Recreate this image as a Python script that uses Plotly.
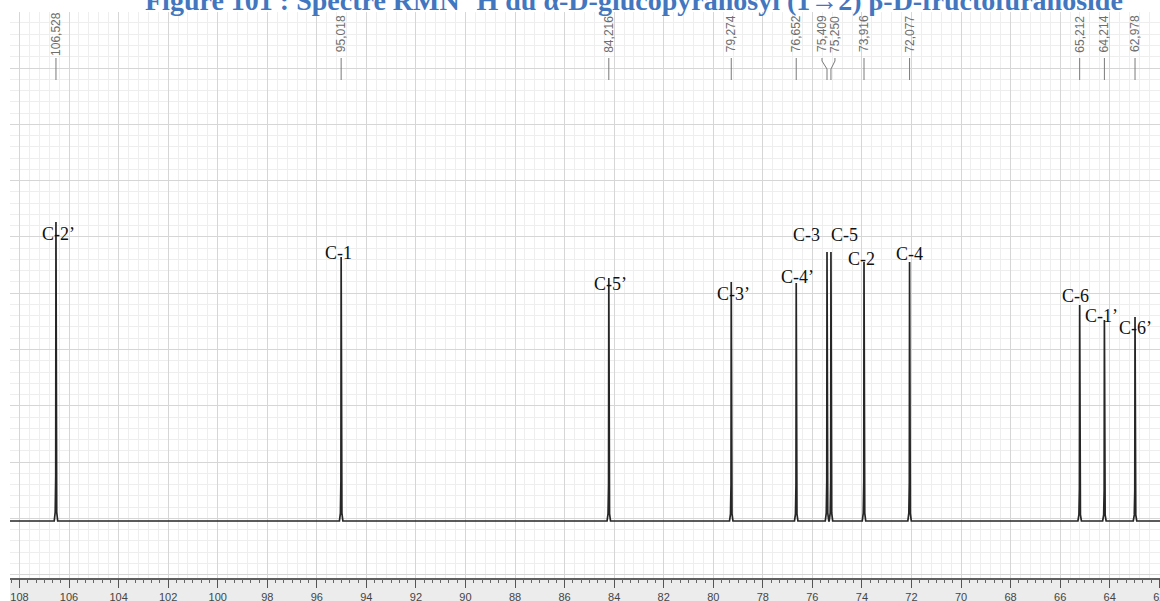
import plotly.graph_objects as go

# ---------------- data ----------------
peak_ppm = [106.528, 95.018, 84.216, 79.274, 76.652, 75.409, 75.250,
            73.916, 72.077, 65.212, 64.214, 62.978]
peak_height = [299, 264, 243, 239, 238, 269, 269, 259, 259, 216, 201, 204]
assignments = ["C-2’", "C-1", "C-5’", "C-3’", "C-4’", "C-3", "C-5",
               "C-2", "C-4", "C-6", "C-1’", "C-6’"]
x_tick_values = [108, 106, 104, 102, 100, 98, 96, 94, 92, 90, 88, 86, 84,
                 82, 80, 78, 76, 74, 72, 70, 68, 66, 64, 62]
title_text = ("Figure 101 : Spectre RMN <sup>1</sup>H du α-D-glucopyranosyl "
              "(1→2) β-D-fructofuranoside")

# ---------------- layout / style settings ----------------
W, H = 1160, 601
M_L, M_R, M_T, M_B = 10, 0, 12, 23
X_RANGE = [108.383, 61.97]
BASE_PX = 521                      # baseline pixel row
Y_RANGE = [BASE_PX - (H - M_B), BASE_PX - M_T]   # intensity units = px above baseline
# label placement (pixel offsets / rows)
label_dx = [3, -3, 2, 2, 1, -21, 14, -3, 0, -4, -3, 0]
label_row = [234, 253, 284, 294, 277, 235, 235, 259, 254, 296, 316, 328]
value_dx = [0, 0, 0, 0, 0, -5, 4, 0, 0, 0, 0, 0]
VALUE_ROW = 34
MARK_TOP, MARK_BEND, MARK_BOTTOM = 58, 69, 80
PX_PER_PPM = (W - M_L - M_R) / (X_RANGE[0] - X_RANGE[1])
# peak line shape (offset in ppm, fraction of height)
PROFILE = [(-0.07, 0.0), (-0.03, 0.03), (-0.01, 0.15), (0.0, 1.0),
           (0.01, 0.15), (0.03, 0.03), (0.07, 0.0)]

def row_to_y(row):
    return BASE_PX - row

# ---------------- spectrum trace ----------------
order = sorted(range(len(peak_ppm)), key=lambda i: -peak_ppm[i])
sx, sy = [X_RANGE[0]], [0]
for i in order:
    for off, frac in PROFILE:
        sx.append(peak_ppm[i] - off)
        sy.append(peak_height[i] * frac)
sx.append(X_RANGE[1])
sy.append(0)

fig = go.Figure()
fig.add_trace(go.Scatter(x=sx, y=sy, mode="lines",
                         line=dict(color="#262626", width=1.7),
                         hoverinfo="skip", showlegend=False))

# ---------------- top marker lines ----------------
mx, my = [], []
for i, p in enumerate(peak_ppm):
    top_x = p - value_dx[i] / PX_PER_PPM
    bend = MARK_BEND if value_dx[i] else MARK_TOP + 3
    mx += [top_x, top_x, p, p, None]
    my += [row_to_y(MARK_TOP), row_to_y(MARK_TOP + 3), row_to_y(bend),
           row_to_y(MARK_BOTTOM), None]
fig.add_trace(go.Scatter(x=mx, y=my, mode="lines", xaxis="x2",
                         line=dict(color="#7a7a7a", width=1),
                         hoverinfo="skip", showlegend=False))

annotations = []
for i, p in enumerate(peak_ppm):
    annotations.append(dict(
        x=p, y=row_to_y(VALUE_ROW), xref="x", yref="y",
        text=f"{p:.3f}".replace(".", ","), showarrow=False, textangle=-90,
        xshift=value_dx[i], xanchor="center", yanchor="middle",
        font=dict(family="Liberation Sans, Arial", size=12, color="#6e6e6e")))
    annotations.append(dict(
        x=p, y=row_to_y(label_row[i]), xref="x", yref="y",
        text=assignments[i], showarrow=False, xshift=label_dx[i],
        xanchor="center", yanchor="middle",
        font=dict(family="Liberation Serif, Times New Roman", size=18, color="#111111")))

annotations.append(dict(
    x=(634 - M_L) / (W - M_L - M_R), y=1, xref="paper", yref="paper",
    text=f"<b>{title_text}</b>", showarrow=False, xanchor="center",
    yanchor="middle", yshift=14,
    font=dict(family="Liberation Serif, DejaVu Serif, Times New Roman",
              size=28, color="#4277c0")))

fig.update_layout(
    width=W, height=H, autosize=False,
    margin=dict(l=M_L, r=M_R, t=M_T, b=M_B, pad=0),
    paper_bgcolor="white", plot_bgcolor="white",
    showlegend=False,
    annotations=annotations,
    shapes=[dict(type="rect", xref="paper", yref="paper", x0=0, x1=1,
                 y0=-M_B / (H - M_T - M_B), y1=0, fillcolor="#ececec",
                 line=dict(width=0), layer="below")],
    xaxis=dict(range=X_RANGE, tickvals=x_tick_values, ticks="outside",
               ticklen=8, tickcolor="#555555", tickwidth=1,
               showline=True, linecolor="#606060", linewidth=2,
               showgrid=True, gridcolor="#d6d6d6", gridwidth=1,
               minor=dict(dtick=0.4, tick0=108, showgrid=True,
                          gridcolor="#eeeeee", ticks=""),
               tickfont=dict(family="Liberation Sans, Arial", size=11, color="#444444"),
               ticklabeloverflow="allow",
               zeroline=False, fixedrange=True, automargin=False),
    xaxis2=dict(range=X_RANGE, overlaying="x", anchor="y", side="bottom",
                showticklabels=False, showgrid=False, zeroline=False,
                tickvals=x_tick_values, ticks="outside", ticklen=8,
                tickcolor="#555555",
                minor=dict(dtick=1 / 3, tick0=108, ticks="outside", ticklen=4,
                           tickcolor="#666666", showgrid=False)),
    yaxis=dict(range=Y_RANGE, showticklabels=False, ticks="",
               showgrid=True, gridcolor="#d6d6d6", dtick=56.3, tick0=2.6,
               minor=dict(dtick=11.26, tick0=2.6, showgrid=True,
                          gridcolor="#eeeeee"),
               zeroline=False, showline=False, fixedrange=True),
)

fig.write_html("out.html", config={"displayModeBar": False},
               post_script="document.body.style.margin='0';")
